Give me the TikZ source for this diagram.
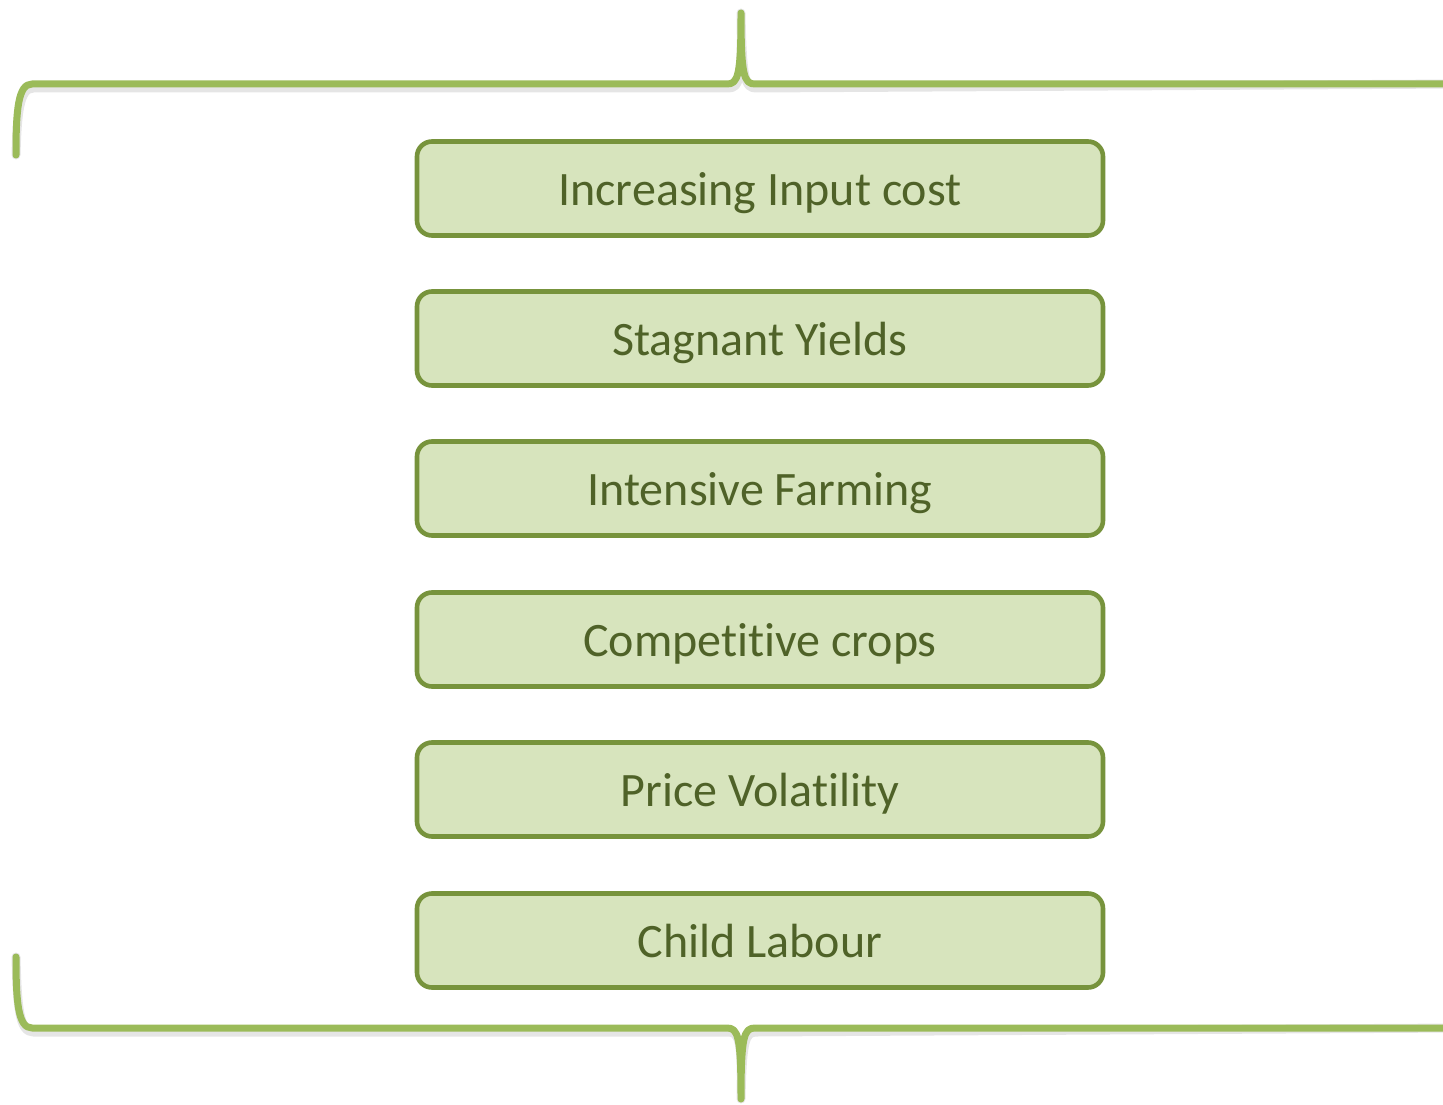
\documentclass[tikz,border=0pt]{standalone}
\usepackage{fontspec}
\setmainfont{Carlito}[Ligatures=NoCommon]
\definecolor{boxfill}{HTML}{D7E4BD}
\definecolor{boxline}{HTML}{77933C}
\definecolor{bracecol}{HTML}{9BBB59}
\definecolor{txtcol}{HTML}{4F6228}
\begin{document}
\begin{tikzpicture}[x=1pt,y=-1pt,
  itembox/.style={draw=boxline, fill=boxfill, line width=4.6pt, rounded corners=15pt,
    minimum width=686pt, minimum height=94pt, inner sep=0pt,
    text height=36pt, text depth=3pt,
    font=\fontsize{48}{58}\selectfont, text=txtcol},
  bracestyle/.style={draw=bracecol, line width=7pt, line cap=round, line join=round},
  braceshadow/.style={draw=black, opacity=0.10, line width=9pt, line cap=round, line join=round}]
\useasboundingbox (0,0) rectangle (1443,1105);
\coordinate (tl) at (16,155);
\coordinate (tt) at (741,13);
\coordinate (tr) at (1460,84);
\coordinate (bl) at (16,957);
\coordinate (bt) at (741,1099);
\coordinate (br) at (1460,1028);
\foreach \s/\o in {braceshadow/4, bracestyle/0}{
  \begin{scope}[yshift=-\o pt, xshift=\o*0.3 pt]
  \path[\s] (tl) .. controls (16,110) and (18,84) .. (32,84) -- (727,84)
     .. controls (738,84) and (741,76) .. (tt)
     .. controls (741,76) and (744,84) .. (755,84) -- (tr);
  \path[\s] (bl) .. controls (16,1002) and (18,1028) .. (32,1028) -- (727,1028)
     .. controls (738,1028) and (741,1036) .. (bt)
     .. controls (741,1036) and (744,1028) .. (755,1028) -- (br);
  \end{scope}
}
\node[itembox] (b1) at (760,188.5) {Increasing Input cost};
\node[itembox] (b2) at (760,338.5) {Stagnant Yields};
\node[itembox] (b3) at (760,488.5) {Intensive Farming};
\node[itembox] (b4) at (760,639.5) {Competitive crops};
\node[itembox] (b5) at (760,789.5) {Price Volatility};
\node[itembox] (b6) at (760,940.5) {Child Labour};
\end{tikzpicture}
\end{document}
